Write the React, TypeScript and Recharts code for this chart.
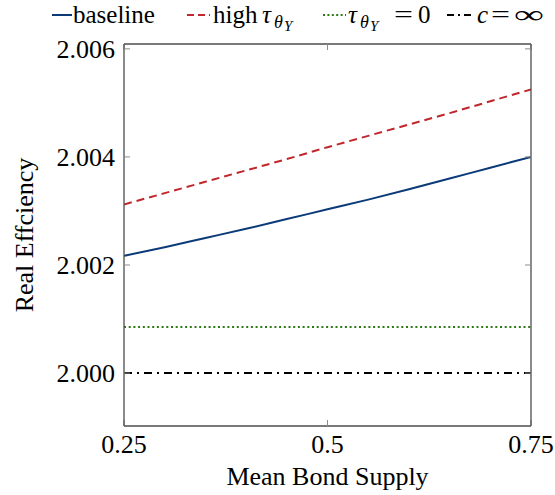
import { LineChart, Line, XAxis, YAxis } from 'recharts'

// mean bond supply grid
const supply = [0.25, 0.3, 0.35, 0.4, 0.45, 0.5, 0.55, 0.6, 0.65, 0.7, 0.75]

// real efficiency per scenario
const baseline = [2.00217, 2.00233, 2.0025, 2.00267, 2.00285, 2.00303, 2.00321, 2.0034, 2.0036, 2.0038, 2.004]
const highTau = [2.00312, 2.00333, 2.00354, 2.00375, 2.00396, 2.00418, 2.00439, 2.0046, 2.00481, 2.00503, 2.00525]
const tauZero = [2.00085, 2.00085, 2.00085, 2.00085, 2.00085, 2.00085, 2.00085, 2.00085, 2.00085, 2.00085, 2.00085]
const cInf = [2.0, 2.0, 2.0, 2.0, 2.0, 2.0, 2.0, 2.0, 2.0, 2.0, 2.0]

const xTicks = [0.25, 0.5, 0.75]
const yTicks = [2.0, 2.002, 2.004, 2.006]
const xDomain = [0.25, 0.75]
const yDomain = [1.99902, 2.00609]

const data = supply.map((x, i) => ({
  x,
  baseline: baseline[i],
  highTau: highTau[i],
  tauZero: tauZero[i],
  cInf: cInf[i],
}))

const FONT = "'Liberation Serif', 'Times New Roman', serif"
const AXIS = '#4d4d4d'
const TICK = '#8c8c8c'

const BLUE = '#0b3a78'
const RED = '#c0262b'
const GREEN = '#2e7a14'

const textStyle = { fontSize: 26, fontFamily: FONT, fill: '#000' }
const legendStyle = { fontSize: 25, fontFamily: FONT, fill: '#000' }

// tau with theta_Y subscript, laid out from a left x
function TauSub({ x }: { x: number }) {
  return (
    <text>
      <tspan x={x} y={23} fontStyle="italic">τ</tspan>
      <tspan x={x + 12} y={28} style={{ fontSize: 18 }} fontStyle="italic">θ</tspan>
      <tspan x={x + 22} y={31} style={{ fontSize: 15 }} fontStyle="italic">Y</tspan>
    </text>
  )
}

function LegendOverlay() {
  const ly = 15
  return (
    <svg width={555} height={40} style={{ position: 'absolute', left: 0, top: 0 }}>
      <g style={legendStyle}>
        <line x1={52} x2={72} y1={ly} y2={ly} stroke={BLUE} strokeWidth={2} />
        <text x={73} y={23}>baseline</text>

        <line x1={187} x2={210} y1={ly} y2={ly} stroke={RED} strokeWidth={2} strokeDasharray="7 4" />
        <text x={213} y={23}>high</text>
        <TauSub x={262} />

        <line x1={323} x2={346} y1={ly} y2={ly} stroke={GREEN} strokeWidth={2} strokeDasharray="2 2.4" />
        <TauSub x={348} />
        <text x={394} y={23} textLength={19} lengthAdjust="spacingAndGlyphs">=</text>
        <text x={418} y={23}>0</text>

        <line x1={447} x2={473} y1={ly} y2={ly} stroke="#000" strokeWidth={2} strokeDasharray="7 4 2 4" />
        <text x={477} y={23} fontStyle="italic">c</text>
        <text x={491} y={23} textLength={19} lengthAdjust="spacingAndGlyphs">=</text>
        <text x={514} y={23} textLength={30} lengthAdjust="spacingAndGlyphs">∞</text>
      </g>
    </svg>
  )
}

export default function App() {
  return (
    <div style={{ position: 'absolute', left: 0, top: 0, width: 555, height: 495, background: '#fff', fontFamily: FONT }}>
      <LineChart width={555} height={495} data={data} margin={{ top: 0, right: 0, bottom: 0, left: 0 }} style={{ fontFamily: FONT }}>
        <XAxis
          xAxisId="b"
          dataKey="x"
          type="number"
          domain={xDomain}
          ticks={xTicks}
          interval={0}
          allowDataOverflow
          height={69}
          tickSize={-6}
          tickMargin={15}
          tick={{ style: textStyle, fill: '#000' }}
          tickLine={{ stroke: TICK }}
          axisLine={{ stroke: AXIS, strokeWidth: 1.3 }}
          label={{
            value: 'Mean Bond Supply',
            position: 'insideBottom',
            offset: 10,
            style: textStyle,
          }}
        />
        <XAxis
          xAxisId="t"
          orientation="top"
          dataKey="x"
          type="number"
          domain={xDomain}
          ticks={xTicks}
          interval={0}
          allowDataOverflow
          height={44}
          tickSize={-6}
          tickFormatter={() => ''}
          tickLine={{ stroke: TICK }}
          axisLine={{ stroke: AXIS, strokeWidth: 1.3 }}
        />
        <YAxis
          yAxisId="l"
          type="number"
          domain={yDomain}
          ticks={yTicks}
          interval={0}
          allowDataOverflow
          width={124}
          tickSize={-6}
          tickMargin={15}
          tickFormatter={(v: number) => v.toFixed(3)}
          tick={{ style: textStyle, fill: '#000' }}
          tickLine={{ stroke: TICK }}
          axisLine={{ stroke: AXIS, strokeWidth: 1.3 }}
          label={{
            value: 'Real Effciency',
            angle: -90,
            position: 'insideLeft',
            offset: 24,
            style: { ...textStyle, textAnchor: 'middle' },
          }}
        />
        <YAxis
          yAxisId="r"
          orientation="right"
          type="number"
          domain={yDomain}
          ticks={yTicks}
          interval={0}
          allowDataOverflow
          width={24}
          tickSize={-6}
          tickFormatter={() => ''}
          tickLine={{ stroke: TICK }}
          axisLine={{ stroke: AXIS, strokeWidth: 1.3 }}
        />
        <Line
          xAxisId="b"
          yAxisId="l"
          dataKey="cInf"
          stroke="#000"
          strokeWidth={2}
          strokeDasharray="8 5 2 5"
          dot={false}
          isAnimationActive={false}
        />
        <Line
          xAxisId="t"
          yAxisId="r"
          dataKey="tauZero"
          stroke={GREEN}
          strokeWidth={2}
          strokeDasharray="2 2.7"
          dot={false}
          isAnimationActive={false}
        />
        <Line
          xAxisId="b"
          yAxisId="l"
          dataKey="baseline"
          type="monotone"
          stroke={BLUE}
          strokeWidth={2}
          dot={false}
          isAnimationActive={false}
        />
        <Line
          xAxisId="b"
          yAxisId="l"
          dataKey="highTau"
          stroke={RED}
          strokeWidth={2}
          strokeDasharray="8 5"
          dot={false}
          isAnimationActive={false}
        />
      </LineChart>
      <LegendOverlay />
    </div>
  )
}
